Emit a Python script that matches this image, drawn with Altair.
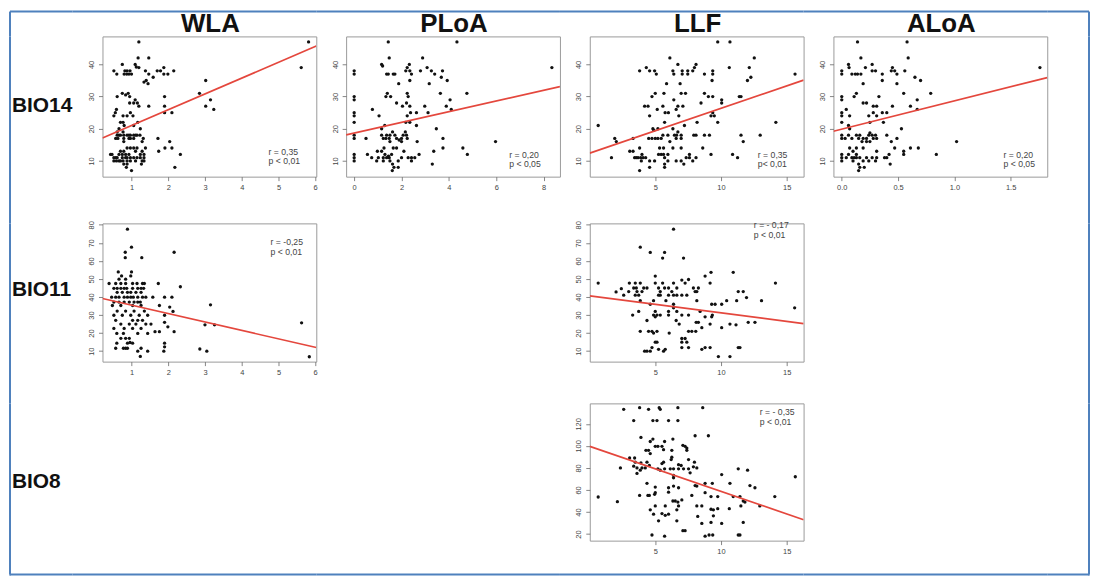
import altair as alt
import pandas as pd

# ---------------- data ----------------
COLUMNS = ["WLA", "PLoA", "LLF", "ALoA"]
ROWS = ["BIO14", "BIO11", "BIO8"]

WLA_BIO14 = [(1.2,47),(5.82,47),(5.62,39),(1.18,42),(1.47,42),(0.75,40),(1.1,40),(0.52,38),(0.6,37),(0.82,38),(0.88,38),(0.96,38),(0.8,37),(0.87,37),(0.93,37),(1.0,37),(1.13,39.2),(1.2,39),(1.38,38),(1.7,38),(1.79,38),(1.88,39),(2.15,38),(1.47,37),(1.88,37),(1.99,37),(1.59,36),(1.34,34.5),(1.4,35),(1.45,34),(3.02,35),(0.61,30),(0.75,31),(0.84,30.5),(0.91,31),(0.95,30),(2.85,31),(3.15,29),(3.02,27),(3.24,26),(1.9,30),(1.1,29),(1.16,28),(0.95,28),(1.06,28),(1.47,27),(1.9,27),(1.2,27),(0.59,26),(0.56,25),(0.52,24),(0.97,25),(1.04,24),(1.9,25),(2.1,25),(0.77,24),(0.88,24),(0.7,22),(0.77,22),(1.17,22),(0.8,21),(1.06,21),(0.66,20),(1.24,20),(0.61,19),(0.77,19),(0.61,18),(0.66,18),(0.7,18),(0.79,18),(0.88,18),(0.93,18),(0.97,18),(1.06,18),(1.11,18),(1.15,18),(1.23,18),(0.57,17),(0.63,17),(0.79,17),(0.93,17),(0.97,17),(1.06,17),(1.32,17),(1.72,17),(2.04,16),(1.29,16),(0.79,16),(0.88,14),(0.97,14),(1.06,14),(1.15,14),(1.38,14),(1.91,14),(2.1,14),(0.7,13),(0.79,13),(1.11,13),(1.29,13),(1.74,13),(0.43,12),(0.47,12),(0.66,12),(0.75,12),(0.84,12),(0.93,12),(1.24,12),(1.34,12),(2.33,12),(0.52,11),(0.57,11),(0.61,11),(0.75,11),(0.84,11),(0.88,11),(0.97,11),(1.06,11),(1.15,11),(1.24,11),(1.34,11),(0.52,10),(0.59,10),(0.66,10),(0.7,10),(0.77,10),(0.88,10),(0.97,10),(1.11,10),(1.29,10),(1.34,10),(0.79,9),(0.88,9),(1.27,9),(0.86,8),(2.18,8),(1.0,7)]

PLOA_BIO14 = [(1.44,47),(4.34,47),(1.48,42),(2.89,42),(8.35,39),(0,38),(0,37),(1.16,40),(1.2,39.5),(1.37,37),(1.44,37),(1.65,37),(1.72,37),(2.18,38),(2.35,38),(2.33,40),(2.24,39),(2.42,37),(2.8,38),(3.08,39),(3.26,38),(3.4,37),(3.73,38),(3.68,36),(3.93,35),(2.35,35),(1.88,34),(3.17,34),(0,30),(0,29),(1.4,31),(1.54,30),(1.34,30),(2.24,31),(2.28,30),(3.64,31),(4.76,31),(4.05,29),(1.79,28),(2.21,28),(2.04,27),(2.35,27),(2.98,27),(3.89,27),(0.77,26),(4.1,26),(0,25),(0,24),(1.05,24),(2.38,25),(2.63,25),(3.12,25),(2.24,24),(0,22),(2.18,22),(2.35,22),(2.63,21),(1.29,21),(1.16,20),(3.47,20),(0,18),(1.16,18),(1.37,18),(1.51,18),(1.72,18),(2.07,18),(2.21,18),(2.16,19),(1.62,19),(0,17),(0.5,17),(1.23,17),(1.34,17),(1.48,17),(1.79,17),(2.0,17),(2.24,17),(3.75,17),(5.97,16),(1.51,16),(2.0,16),(2.66,16),(1.26,14),(1.65,14),(1.79,14),(3.75,14),(4.59,14),(0.98,13),(1.16,13),(3.36,13),(0,12),(0.56,12),(1.58,12),(2.74,12),(4.78,12),(0,11),(0.74,11),(1.02,11),(1.23,11),(1.37,11),(1.48,11),(2.0,11),(2.28,11),(2.42,11),(2.56,11),(0,10),(0.95,10),(1.23,10),(1.51,10),(1.86,10),(2.42,10),(1.62,9),(3.3,9),(1.68,8),(1.86,8),(1.61,7),(1.3,12),(1.45,11.5),(2.1,13),(1.9,16.5)]

LLF_BIO14 = [(9.75,47),(10.68,47),(6.11,42),(10.63,39),(12.53,42),(12.15,39),(15.63,37),(3.81,38),(4.32,39),(4.57,38),(4.95,38),(5.08,37),(6.34,38),(6.41,37),(6.72,40),(7.05,38),(7.05,37),(7.47,38),(7.47,37),(7.85,38),(8.1,40),(7.98,39),(8.74,37),(9.37,38),(9.37,37),(9.32,35),(12.01,35),(12.27,36),(5.86,34),(6.89,34),(4.19,27),(4.45,27),(4.75,30),(5.0,31),(5.66,31),(6.97,31),(7.3,31),(8.74,31),(9.04,30),(9.37,30),(11.39,30),(11.52,30),(6.41,29),(8.48,28),(10.05,29),(10.05,28),(6.72,27),(7.1,27),(5.58,27),(5.15,26),(6.59,26),(6.0,25),(5.75,25),(4.57,24),(6.79,24),(9.37,25),(9.24,24),(9.49,24),(9.75,22),(8.18,22),(5.71,22),(14.17,22),(0.66,21),(7.22,21),(4.82,20),(4.9,19.5),(6.34,20),(6.72,19),(6.62,18),(5.2,20),(5.58,18),(5.96,18),(6.46,18),(6.97,18),(7.93,18),(8.1,18),(8.74,18),(9.12,18),(11.52,18),(12.98,18),(1.92,17),(3.31,17),(4.5,17),(4.75,17),(5.0,17),(5.2,17),(5.45,17),(6.59,17),(6.97,17),(2.04,16),(6.11,16),(11.69,16),(8.61,14),(3.81,14),(5.33,14),(5.63,14),(6.34,14),(6.97,14),(3.06,13),(3.31,13),(3.99,12),(5.25,12),(5.45,12),(5.63,12),(5.96,12),(7.6,12),(10.88,12),(9.24,12),(1.67,11),(3.43,11),(3.56,11),(3.69,11),(3.89,11),(4.07,11),(4.27,11),(5.71,11),(7.35,11),(7.6,11),(8.1,11),(11.26,11),(3.94,10),(4.57,10),(4.95,10),(5.96,10),(6.59,10),(6.97,10),(7.85,10),(5.71,9),(7.17,9),(4.57,8),(5.71,8),(3.81,7)]

ALOA_BIO14 = [(0.14,47),(0.58,47),(0.17,42),(0.59,42),(0.06,40),(0.065,39),(0.27,40),(0.21,39),(0.45,39),(0.47,38),(1.76,39),(0,38),(0,37),(0.09,37),(0.12,37),(0.14,37),(0.17,37),(0.27,38),(0.3,38),(0.36,37),(0.44,38),(0.49,37),(0.56,38),(0.36,35),(0.65,36),(0.7,35),(0.49,34),(0.19,34),(0,30),(0,29),(0.13,31),(0.11,30),(0.33,30),(0.55,31),(0.79,31),(0.67,29),(0.19,28),(0.22,28),(0.28,27),(0.31,27),(0.45,27),(0.61,27),(0.04,26),(0.67,26),(0,25),(0,24),(0.28,25),(0.36,25),(0.31,24),(0.4,25),(0.07,24),(0.24,24),(0.37,22),(0,22),(0.25,22),(0.06,21),(0.07,20),(0.53,20),(0,18),(0,17),(0.03,17),(0.06,18),(0.09,17),(0.13,18),(0.15,17),(0.16,18),(0.19,17),(0.22,17),(0.24,18),(0.25,18.7),(0.27,18),(0.28,17),(0.3,18),(0.31,17),(0.4,18),(0.49,17),(0.18,16),(0.22,16),(0.25,16),(0.44,16),(1.02,16),(0.07,14),(0.13,14),(0.19,14),(0.47,14),(0.61,14),(0.68,14),(0.1,13),(0.31,13),(0.55,13),(0,12),(0.06,12),(0.13,12),(0.42,12),(0.84,12),(0.55,12),(0,11),(0.04,11),(0.09,11),(0.11,11),(0.13,11),(0.16,11),(0.22,11),(0.27,11),(0.31,11),(0.38,11),(0.4,11),(0,10),(0.1,10),(0.19,10),(0.24,10),(0.3,10),(0.15,9),(0.43,9),(0.16,8),(0.2,8),(0.15,7)]

WLA_BIO11 = [(0.89,77.6),(1.0,67.6),(0.83,64.8),(0.83,61.8),(1.28,61.8),(2.16,64.8),(0.64,53.9),(1.0,53.9),(0.98,51.7),(0.73,51.7),(0.66,49.9),(0.84,49.9),(0.39,47.5),(0.57,47.5),(0.71,47.5),(0.84,47.5),(1.03,47.5),(1.15,47.5),(1.3,47.5),(1.35,47.5),(1.73,47.5),(2.33,45.7),(0.52,44.8),(0.61,44.8),(0.71,44.8),(0.8,44.8),(0.87,44.8),(1.03,44.8),(1.17,44.8),(1.26,44.8),(1.33,44.8),(0.61,42.6),(0.75,42.6),(0.89,42.6),(0.98,42.6),(1.12,42.6),(1.26,42.6),(0.46,39.9),(0.57,39.9),(0.66,39.9),(0.8,39.9),(0.89,39.9),(0.98,39.9),(1.05,39.9),(1.17,39.9),(1.3,39.9),(1.39,39.9),(1.58,39.9),(1.9,39.9),(2.1,39.9),(0.52,37.2),(0.66,37.2),(0.8,37.2),(0.94,37.2),(1.07,37.2),(1.17,37.2),(1.24,37.2),(0.48,35.3),(0.71,35.3),(1.03,35.3),(1.26,35.3),(1.76,35.3),(3.15,35.7),(2.04,34.4),(0.61,32.2),(0.84,32.2),(1.07,32.2),(1.35,32.2),(2.13,32),(0.52,29.9),(0.75,29.9),(0.98,29.9),(1.21,29.9),(1.44,29.9),(1.9,29.9),(0.57,27.1),(1.03,27.1),(1.17,27.1),(1.3,27.1),(1.9,26),(0.71,25),(0.94,25),(1.12,25),(1.39,25),(1.53,25),(3.0,24.6),(3.26,24.6),(5.63,25.7),(0.52,22.6),(0.8,22.6),(1.03,22.6),(1.26,22.6),(1.99,23.5),(1.64,20.8),(1.76,20.8),(2.16,20.8),(0.6,19.8),(0.78,19.8),(1.17,19.8),(1.44,19.8),(0.71,17.1),(0.84,17.1),(0.94,17.1),(0.96,14.8),(0.6,14.4),(0.89,14.4),(1.03,14.4),(1.9,14.4),(0.57,11.6),(0.78,11.6),(0.84,11.6),(0.89,11.6),(1.26,11.6),(2.86,11.2),(1.17,10),(1.44,10),(1.88,10),(3.05,10),(1.9,12.4),(1.24,7.1),(5.84,6.9)]

LLF_BIO11 = [(6.39,77.6),(3.86,67.6),(4.62,64.7),(5.71,64.7),(5.56,61.6),(7.15,61.6),(9.24,53.7),(10.93,53.7),(5.0,51.6),(8.79,51.6),(7.02,49.4),(7.53,49.7),(0.66,47.7),(3.03,47.7),(3.48,47.7),(3.86,47.7),(5.0,47.7),(5.56,47.7),(6.39,47.7),(7.27,47.7),(9.17,47.7),(14.14,47.7),(2.02,42.8),(2.42,44.6),(3.36,45),(3.56,45),(4.12,45),(4.37,45),(5.25,45),(5.71,45),(6.01,45),(6.64,45),(7.9,45),(8.28,45),(2.98,43),(3.61,43),(3.99,43),(5.38,43),(6.26,43),(8.03,43),(8.16,43),(11.31,43),(11.69,43),(2.6,41),(3.48,41),(3.74,41),(5.25,41),(5.38,41),(6.01,41),(6.39,41),(6.64,41),(7.02,41),(7.4,41),(11.94,39.7),(3.86,38),(4.87,38),(5.81,38),(8.16,38),(10.43,38),(11.19,38),(13.08,38),(4.62,36),(6.39,36),(9.29,36),(9.55,36),(10.05,36),(6.39,34),(15.6,34),(3.74,32),(5.0,32),(6.01,32),(6.64,32),(8.41,32),(3.28,30),(4.87,30),(5.13,30),(5.38,30),(6.01,30),(7.02,30),(7.53,30),(9.34,30),(5.0,29),(8.79,29),(9.29,29),(4.37,27),(6.59,27),(8.28,26),(8.11,26),(11.14,24.6),(12.07,26),(12.58,26),(6.82,25),(9.17,25),(10.68,25),(8.54,23),(10.05,23),(3.86,21),(4.49,21),(4.75,21),(5.13,21),(7.53,21),(7.78,21),(8.08,21),(4.87,20),(6.06,20),(7.02,17),(7.27,17),(5.0,15),(5.13,15),(7.02,15),(7.4,15),(4.75,12),(7.02,12),(7.53,12),(8.79,12),(9.17,12),(11.31,12),(11.44,12),(5.25,11),(5.76,11),(8.54,11),(4.19,10),(4.37,10),(4.62,10),(5.63,10),(9.8,7),(10.68,7)]

LLF_BIO8 = [(2.6,133.2),(3.81,134.7),(4.49,133.2),(5.3,134.7),(5.38,133.2),(6.72,134.7),(8.61,134.7),(3.36,123),(4.82,123),(5.13,123),(6.01,123),(6.72,123),(3.91,107.7),(8.03,109.2),(9.04,109.2),(6.34,106.2),(4.62,104),(4.82,106.2),(5.71,104),(5.0,99.6),(5.2,99.6),(7.1,100.5),(7.27,99.6),(7.4,98),(5.51,99.6),(4.29,96),(4.49,96),(5.63,96.6),(6.26,96),(7.4,96),(4.62,93),(3.05,89),(3.43,89),(6.26,89.7),(6.21,87.6),(7.53,87.6),(3.48,85.2),(3.91,84.6),(4.37,85.2),(5.63,85.2),(5.51,84),(7.98,85.2),(6.77,83),(6.97,82.2),(3.36,81.6),(3.61,80),(3.99,80),(4.24,80),(3.86,78),(4.55,82.2),(2.35,80),(5.2,79.2),(5.38,78),(5.71,79.2),(6.14,79.2),(6.39,79.2),(6.77,79.2),(7.15,79.2),(7.53,79.2),(7.9,81),(8.16,80),(7.65,75.6),(3.61,75),(10.05,74),(11.31,79.2),(12.02,78),(6.39,73.2),(6.39,71),(15.65,72),(4.37,66),(8.03,64),(8.16,63.5),(8.79,66),(9.34,66),(10.68,66),(12.2,64),(12.58,62),(6.01,62),(6.39,63.5),(6.77,62),(5.0,62.6),(3.81,55),(4.44,55),(4.55,55),(5.0,57.5),(4.95,56),(6.01,58),(7.78,55),(8.79,57.5),(9.24,54),(9.75,54),(10.93,54),(11.44,54),(14.09,54),(0.66,53.6),(2.12,49.4),(6.34,50),(6.52,50),(6.72,49),(7.02,51),(11.69,50),(11.82,49),(5.0,45.5),(5.76,45.5),(6.77,45.5),(8.16,45.5),(8.54,45.5),(11.51,45.5),(12.95,45.5),(4.62,42),(6.64,42),(9.24,42.5),(9.42,42),(9.75,43),(10.63,43),(5.51,38.6),(5.76,37),(4.87,38),(6.01,38),(8.23,36),(9.42,36.5),(5.25,32),(6.64,32),(8.54,29.6),(9.24,30.5),(10.05,29.6),(11.69,30.5),(7.1,23),(7.27,23),(4.75,19.1),(5.71,18),(8.79,18),(9.09,19.1),(9.37,19.1),(11.31,19.1),(11.44,19.1)]

# fitted lines, endpoints read at the plot edges
LINE_WLA_BIO14 = [(0.21, 17.1), (6.03, 45.7)]
LINE_PLOA_BIO14 = [(-0.34, 18.1), (8.69, 33.1)]
LINE_LLF_BIO14 = [(0.02, 12.4), (16.28, 35.1)]
LINE_ALOA_BIO14 = [(-0.074, 19.2), (1.825, 35.9)]
LINE_WLA_BIO11 = [(0.21, 39.2), (6.03, 12.0)]
LINE_LLF_BIO11 = [(0.02, 40.6), (16.28, 25.3)]
LINE_LLF_BIO8 = [(0.02, 99.6), (16.28, 33.0)]

STATS = {
    "WLA_BIO14": ("r = 0,35", "p < 0,01"),
    "PLOA_BIO14": ("r = 0,20", "p < 0,05"),
    "LLF_BIO14": ("r = 0,35", "p< 0,01"),
    "ALOA_BIO14": ("r = 0,20", "p < 0,05"),
    "WLA_BIO11": ("r = -0,25", "p < 0,01"),
    "LLF_BIO11": ("r = - 0,17", "p < 0,01"),
    "LLF_BIO8": ("r = - 0,35", "p < 0,01"),
}

TICKS_WLA = [1, 2, 3, 4, 5, 6]
TICKS_PLOA = [0, 2, 4, 6, 8]
TICKS_LLF = [5, 10, 15]
TICKS_ALOA = [0.0, 0.5, 1.0, 1.5]
TICKS_BIO14 = [10, 20, 30, 40]
TICKS_BIO11 = [10, 20, 30, 40, 50, 60, 70, 80]
TICKS_BIO8 = [20, 40, 60, 80, 100, 120]

DOM_WLA = [0.21, 6.03]
DOM_PLOA = [-0.34, 8.69]
DOM_LLF = [0.02, 16.28]
DOM_ALOA = [-0.074, 1.825]
DOM_BIO14 = [5.1, 48.7]
DOM_BIO11 = [4.2, 80.8]
DOM_BIO8 = [14.0, 138.6]

# ---------------- layout / style ----------------
FONT = "Liberation Sans"
BLUE = "#4f81bd"
PW = 215            # panel width
LW = 64             # label column width
RW = 12             # right margin column width
GAP = 30            # gap between columns
TOP_H = 26
H1, H2, H3 = 141, 139, 138
ROW1_H, ROW2_H, ROW3_H = 188, 181, 172
dummy = pd.DataFrame({"a": [0]})
NOSTROKE = alt.ViewBackground(stroke="transparent")


def axis(ticks, vertical=False, fmt=None):
    kw = dict(values=ticks, tickCount=len(ticks), title=None, grid=False, domain=False,
              tickSize=4, tickColor="#666", tickWidth=0.8, labelFontSize=7.5,
              labelColor="#444", labelFont=FONT, labelPadding=3, labelFlush=False,
              labelOverlap=False)
    if vertical:
        kw.update(labelAngle=270, labelAlign="center", labelBaseline="bottom")
    if fmt:
        kw["format"] = fmt
    return alt.Axis(**kw)


def panel(points, line, xdom, ydom, xticks, yticks, key, ann_x, ann_y, height, xfmt=None):
    df = pd.DataFrame(points, columns=["x", "y"])
    ldf = pd.DataFrame(line, columns=["x", "y"])
    xs = alt.Scale(domain=xdom, nice=False, zero=False)
    ys = alt.Scale(domain=ydom, nice=False, zero=False)
    pts = alt.Chart(df).mark_circle(size=11, color="#111", opacity=1).encode(
        x=alt.X("x:Q", scale=xs, axis=axis(xticks, fmt=xfmt)),
        y=alt.Y("y:Q", scale=ys, axis=axis(yticks, vertical=True)),
    )
    ln = alt.Chart(ldf).mark_line(color="#e4473d", strokeWidth=1.7, clip=True).encode(
        x=alt.X("x:Q", scale=xs), y=alt.Y("y:Q", scale=ys)
    )
    r_txt, p_txt = STATS[key]
    t1 = alt.Chart(dummy).mark_text(text=r_txt, align="left", baseline="middle",
                                    fontSize=8.7, color="#444", font=FONT).encode(
        x=alt.value(ann_x), y=alt.value(ann_y))
    t2 = alt.Chart(dummy).mark_text(text=p_txt, align="left", baseline="middle",
                                    fontSize=8.7, color="#444", font=FONT).encode(
        x=alt.value(ann_x), y=alt.value(ann_y + 9.5))
    return alt.layer(pts, ln, t1, t2).properties(
        width=PW, height=height,
        view=alt.ViewBackground(stroke="#9a9a9a", strokeWidth=1))


def hrule(x0, x1, y):
    return alt.Chart(dummy).mark_rule(color=BLUE, strokeWidth=2).encode(
        x=alt.value(x0), x2=alt.value(x1), y=alt.value(y))


def vrule(x, y0, y1):
    return alt.Chart(dummy).mark_rule(color=BLUE, strokeWidth=2).encode(
        x=alt.value(x), y=alt.value(y0), y2=alt.value(y1))


def invisible():
    return alt.Chart(dummy).mark_point(opacity=0).encode(x=alt.value(5), y=alt.value(5))


def cell(layers, w, h):
    return alt.layer(*layers).properties(width=w, height=h, view=NOSTROKE)


def title_text(name):
    return alt.Chart(dummy).mark_text(
        text=name, font=FONT, fontSize=26, fontWeight="bold", color="#111",
        align="center", baseline="top").encode(x=alt.value(PW / 2 + 1), y=alt.value(1))


def row_text(name, by):
    return alt.Chart(dummy).mark_text(
        text=name, font=FONT, fontSize=21, fontWeight="bold", color="#111",
        align="left", baseline="alphabetic").encode(x=alt.value(3), y=alt.value(by))


# top band: frame top edge + column headings
top_row = [cell([hrule(1, LW, 1), vrule(1, 1, TOP_H)], LW, TOP_H)]
for name in COLUMNS:
    top_row.append(cell([hrule(-GAP, PW, 1), title_text(name)], PW, TOP_H))
top_row.append(cell([hrule(-GAP, RW, 1), vrule(RW, 1, TOP_H)], RW, TOP_H))

p1 = panel(WLA_BIO14, LINE_WLA_BIO14, DOM_WLA, DOM_BIO14, TICKS_WLA, TICKS_BIO14, "WLA_BIO14", 167, 116, H1)
p2 = panel(PLOA_BIO14, LINE_PLOA_BIO14, DOM_PLOA, DOM_BIO14, TICKS_PLOA, TICKS_BIO14, "PLOA_BIO14", 164, 119, H1)
p3 = panel(LLF_BIO14, LINE_LLF_BIO14, DOM_LLF, DOM_BIO14, TICKS_LLF, TICKS_BIO14, "LLF_BIO14", 169, 119, H1)
p4 = panel(ALOA_BIO14, LINE_ALOA_BIO14, DOM_ALOA, DOM_BIO14, TICKS_ALOA, TICKS_BIO14, "ALOA_BIO14", 171, 119, H1, xfmt=".1f")
p5 = panel(WLA_BIO11, LINE_WLA_BIO11, DOM_WLA, DOM_BIO11, TICKS_WLA, TICKS_BIO11, "WLA_BIO11", 169, 19, H2)
p6 = panel(LLF_BIO11, LINE_LLF_BIO11, DOM_LLF, DOM_BIO11, TICKS_LLF, TICKS_BIO11, "LLF_BIO11", 165, 2, H2)
p7 = panel(LLF_BIO8, LINE_LLF_BIO8, DOM_LLF, DOM_BIO8, TICKS_LLF, TICKS_BIO8, "LLF_BIO8", 171, 9, H3)


def left(h, name, by):
    return cell([vrule(1, 0, h), row_text(name, by)], LW, h)


def right(h):
    return cell([vrule(RW, 0, h)], RW, h)


def blank(h):
    return cell([invisible()], PW, h)


row1 = [left(ROW1_H, ROWS[0], 76), p1, p2, p3, p4, right(ROW1_H)]
row2 = [left(ROW2_H, ROWS[1], 73), p5, blank(H2), p6, blank(H2), right(ROW2_H)]
row3 = [left(ROW3_H, ROWS[2], 85), blank(H3), blank(H3), p7, blank(H3), right(ROW3_H)]
bottom_row = [cell([hrule(1, LW, 0), vrule(1, 0, 1)], LW, 1)]
bottom_row += [cell([hrule(-GAP, PW, 0)], PW, 1) for _ in range(4)]
bottom_row.append(cell([hrule(-GAP, RW, 0), vrule(RW, 0, 1)], RW, 1))

cells = top_row + row1 + row2 + row3 + bottom_row
chart = alt.concat(*cells, columns=6, spacing={"row": 0, "column": GAP},
                   bounds="flush", align="each").properties(
    padding=0, background="white"
).configure(padding=0).configure_view(stroke="#9a9a9a")

chart.save("out.html", embed_options={"renderer": "svg", "actions": False})
